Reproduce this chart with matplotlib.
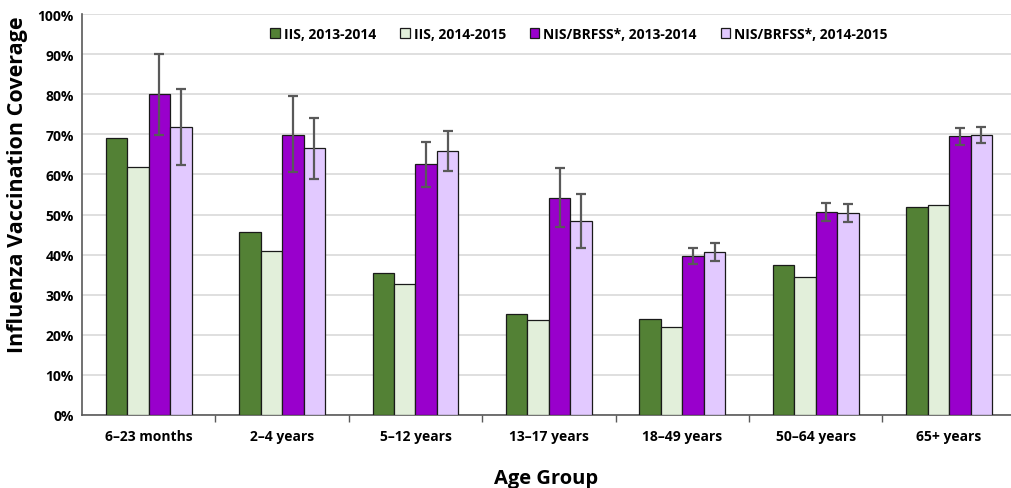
import numpy as np
import matplotlib
matplotlib.use("Agg")
import matplotlib.pyplot as plt

plt.rcParams['font.family'] = ['Open Sans', 'DejaVu Sans']

age_groups = ["6\u201323 months", "2\u20134 years", "5\u201312 years", "13\u201317 years",
              "18\u201349 years", "50\u201364 years", "65+ years"]

iis_2013 = [69.0, 45.6, 35.5, 25.1, 23.9, 37.5, 51.9]
iis_2014 = [61.8, 40.9, 32.6, 23.8, 21.9, 34.5, 52.3]
nis_2013 = [80.0, 69.9, 62.5, 54.2, 39.6, 50.6, 69.5]
nis_2014 = [71.8, 66.5, 65.8, 48.5, 40.7, 50.3, 69.8]

# 95% confidence limits for the survey estimates
nis_2013_low = [69.9, 60.5, 56.9, 47.0, 37.7, 48.4, 67.3]
nis_2013_high = [90.1, 79.5, 68.2, 61.5, 41.6, 52.9, 71.6]
nis_2014_low = [62.4, 58.8, 60.8, 41.7, 38.5, 48.1, 67.8]
nis_2014_high = [81.3, 74.1, 70.7, 55.1, 43.0, 52.6, 71.7]

series_labels = ["IIS, 2013-2014", "IIS, 2014-2015",
                 "NIS/BRFSS*, 2013-2014", "NIS/BRFSS*, 2014-2015"]
colors = ["#538135", "#E2EFDA", "#9900CC", "#E2C9FF"]

fig = plt.figure(figsize=(10.11, 4.89), dpi=100)
ax = fig.add_axes([0.0811, 0.1493, 0.9189, 0.82])

x = np.arange(len(age_groups))
w = 0.161
offsets = [-1.5 * w, -0.5 * w, 0.5 * w, 1.5 * w]
series = [iis_2013, iis_2014, nis_2013, nis_2014]

for vals, off, col, lab in zip(series, offsets, colors, series_labels):
    ax.bar(x + off, vals, width=w, color=col, edgecolor="#1a1a1a",
           linewidth=0.9, label=lab, zorder=3)

err_kw = dict(fmt="none", ecolor="#595959", elinewidth=1.6, capsize=3.5,
              capthick=1.6, zorder=4)
n13 = np.array(nis_2013)
n14 = np.array(nis_2014)
ax.errorbar(x + offsets[2], n13,
            yerr=[n13 - np.array(nis_2013_low), np.array(nis_2013_high) - n13], **err_kw)
ax.errorbar(x + offsets[3], n14,
            yerr=[n14 - np.array(nis_2014_low), np.array(nis_2014_high) - n14], **err_kw)

ax.set_ylim(0, 100)
ax.set_xlim(-0.5, -0.5 + 929 / 133.4)
ax.set_yticks(np.arange(0, 101, 10))
ax.set_yticklabels([f"{v}%" for v in range(0, 101, 10)], fontsize=10, fontweight="bold")
ax.set_xticks(x)
ax.set_xticklabels(age_groups, fontsize=10, fontweight="bold")
ax.set_xticks(np.arange(0.5, len(age_groups) - 0.5, 1), minor=True)
ax.tick_params(axis="x", which="major", length=0, pad=10)
ax.tick_params(axis="x", which="minor", length=5, width=1, color="#595959", direction="out")
ax.tick_params(axis="y", length=0, pad=6)

ax.yaxis.grid(True, color="#d9d9d9", linewidth=1.2, zorder=0)
ax.set_axisbelow(True)
for s in ["top", "right"]:
    ax.spines[s].set_visible(False)
ax.spines["left"].set_color("#595959")
ax.spines["bottom"].set_color("#595959")
ax.spines["left"].set_linewidth(1.2)
ax.spines["bottom"].set_linewidth(1.2)

ax.set_ylabel("Influenza Vaccination Coverage", fontsize=15.5, fontweight="bold",
              va="center")
ax.yaxis.set_label_coords(-0.069, 0.577)
ax.set_xlabel("Age Group", fontsize=14.5, fontweight="bold", labelpad=18)

leg = ax.legend(loc="upper center", bbox_to_anchor=(0.535, 1.0), ncol=4, frameon=False,
                prop={"size": 10, "weight": "bold"}, handlelength=0.7, handleheight=0.7,
                handletextpad=0.3, columnspacing=1.7)

fig.savefig("out.png", dpi=100)
